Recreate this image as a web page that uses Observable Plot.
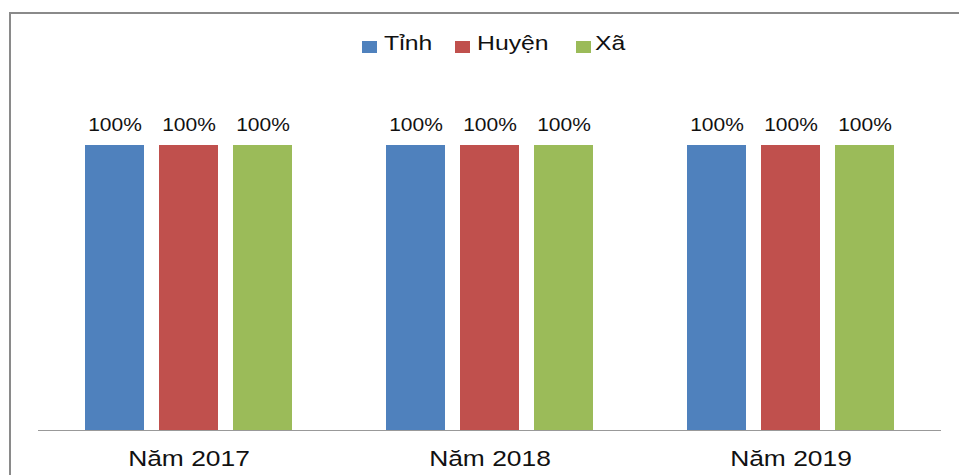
<!DOCTYPE html>
<html>
<head>
<meta charset="utf-8">
<script src="https://cdn.jsdelivr.net/npm/d3@7"></script>
<script src="https://cdn.jsdelivr.net/npm/@observablehq/plot@0.6"></script>
<style>
  html, body { margin: 0; padding: 0; background: #fff; }
  body { width: 959px; height: 475px; position: relative; overflow: hidden; font-family: "Liberation Sans", Arial, sans-serif; }
  #frame { position: absolute; left: 9px; top: 12px; width: 960px; height: 470px; border-left: 2px solid #8a8a8a; border-top: 2px solid #8a8a8a; }
  #legend { position: absolute; left: 0; top: 0; width: 959px; height: 60px; font-size: 21px; color: #111; }
  #legend .sw { position: absolute; top: 41px; width: 15px; height: 12px; }
  #legend .tx { position: absolute; top: 31px; line-height: 24px; transform: scaleX(1.18); transform-origin: left center; white-space: nowrap; }
  #chart { position: absolute; left: 0; top: 60px; }
</style>
</head>
<body>
<div id="frame"></div>
<div id="legend"></div>
<div id="chart"></div>
<script>
const years = ["Năm 2017", "Năm 2018", "Năm 2019"];
const series = ["Tỉnh", "Huyện", "Xã"];
const colors = ["#4F81BD", "#C0504D", "#9BBB59"];
const tinh = [1, 1, 1];
const huyen = [1, 1, 1];
const xa = [1, 1, 1];
const valueLabels = ["100%", "100%", "100%"];

const seriesValues = [tinh, huyen, xa];
const data = [];
years.forEach((yr, i) => {
  series.forEach((s, j) => {
    data.push({year: yr, series: s, value: seriesValues[j][i], label: valueLabels[i]});
  });
});

// legend (HTML, above the SVG)
const legend = document.getElementById("legend");
const swLeft = [362, 455, 576];
const txLeft = [384, 477, 595];
series.forEach((s, j) => {
  const sw = document.createElement("span");
  sw.className = "sw";
  sw.style.left = swLeft[j] + "px";
  sw.style.background = colors[j];
  const tx = document.createElement("span");
  tx.className = "tx";
  tx.style.left = txLeft[j] + "px";
  tx.textContent = s;
  legend.appendChild(sw); legend.appendChild(tx);
});

const chart = Plot.plot({
  width: 959,
  height: 415,
  marginLeft: 38,
  marginRight: 18,
  marginTop: 85,
  marginBottom: 45,
  style: {fontFamily: "Liberation Sans, Arial, sans-serif", fontSize: "22px", color: "#111", background: "transparent"},
  fx: {domain: years, axis: "bottom", tickSize: 0, tickPadding: 20, label: null, padding: 0},
  x: {domain: series, axis: null, paddingInner: 0.2, paddingOuter: 0.607},
  y: {domain: [0, 1], axis: null},
  color: {domain: series, range: colors},
  marks: [
    Plot.barY(data, {fx: "year", x: "series", y: "value", fill: "series"}),
    Plot.ruleY([0], {stroke: "#999", strokeWidth: 1}),
    Plot.text(data, {fx: "year", x: "series", y: "value", text: "label", dy: -20, fontSize: 17.5, fill: "#111"})
  ]
});
document.getElementById("chart").appendChild(chart);

// widen all text horizontally around its own centre (the reference font is stretched)
chart.querySelectorAll("text").forEach(t => {
  const b = t.getBBox();
  const cx = b.x + b.width / 2;
  const prev = t.getAttribute("transform") || "";
  t.setAttribute("transform", `${prev} translate(${cx},0) scale(1.2,1) translate(${-cx},0)`.trim());
});
</script>
</body>
</html>
